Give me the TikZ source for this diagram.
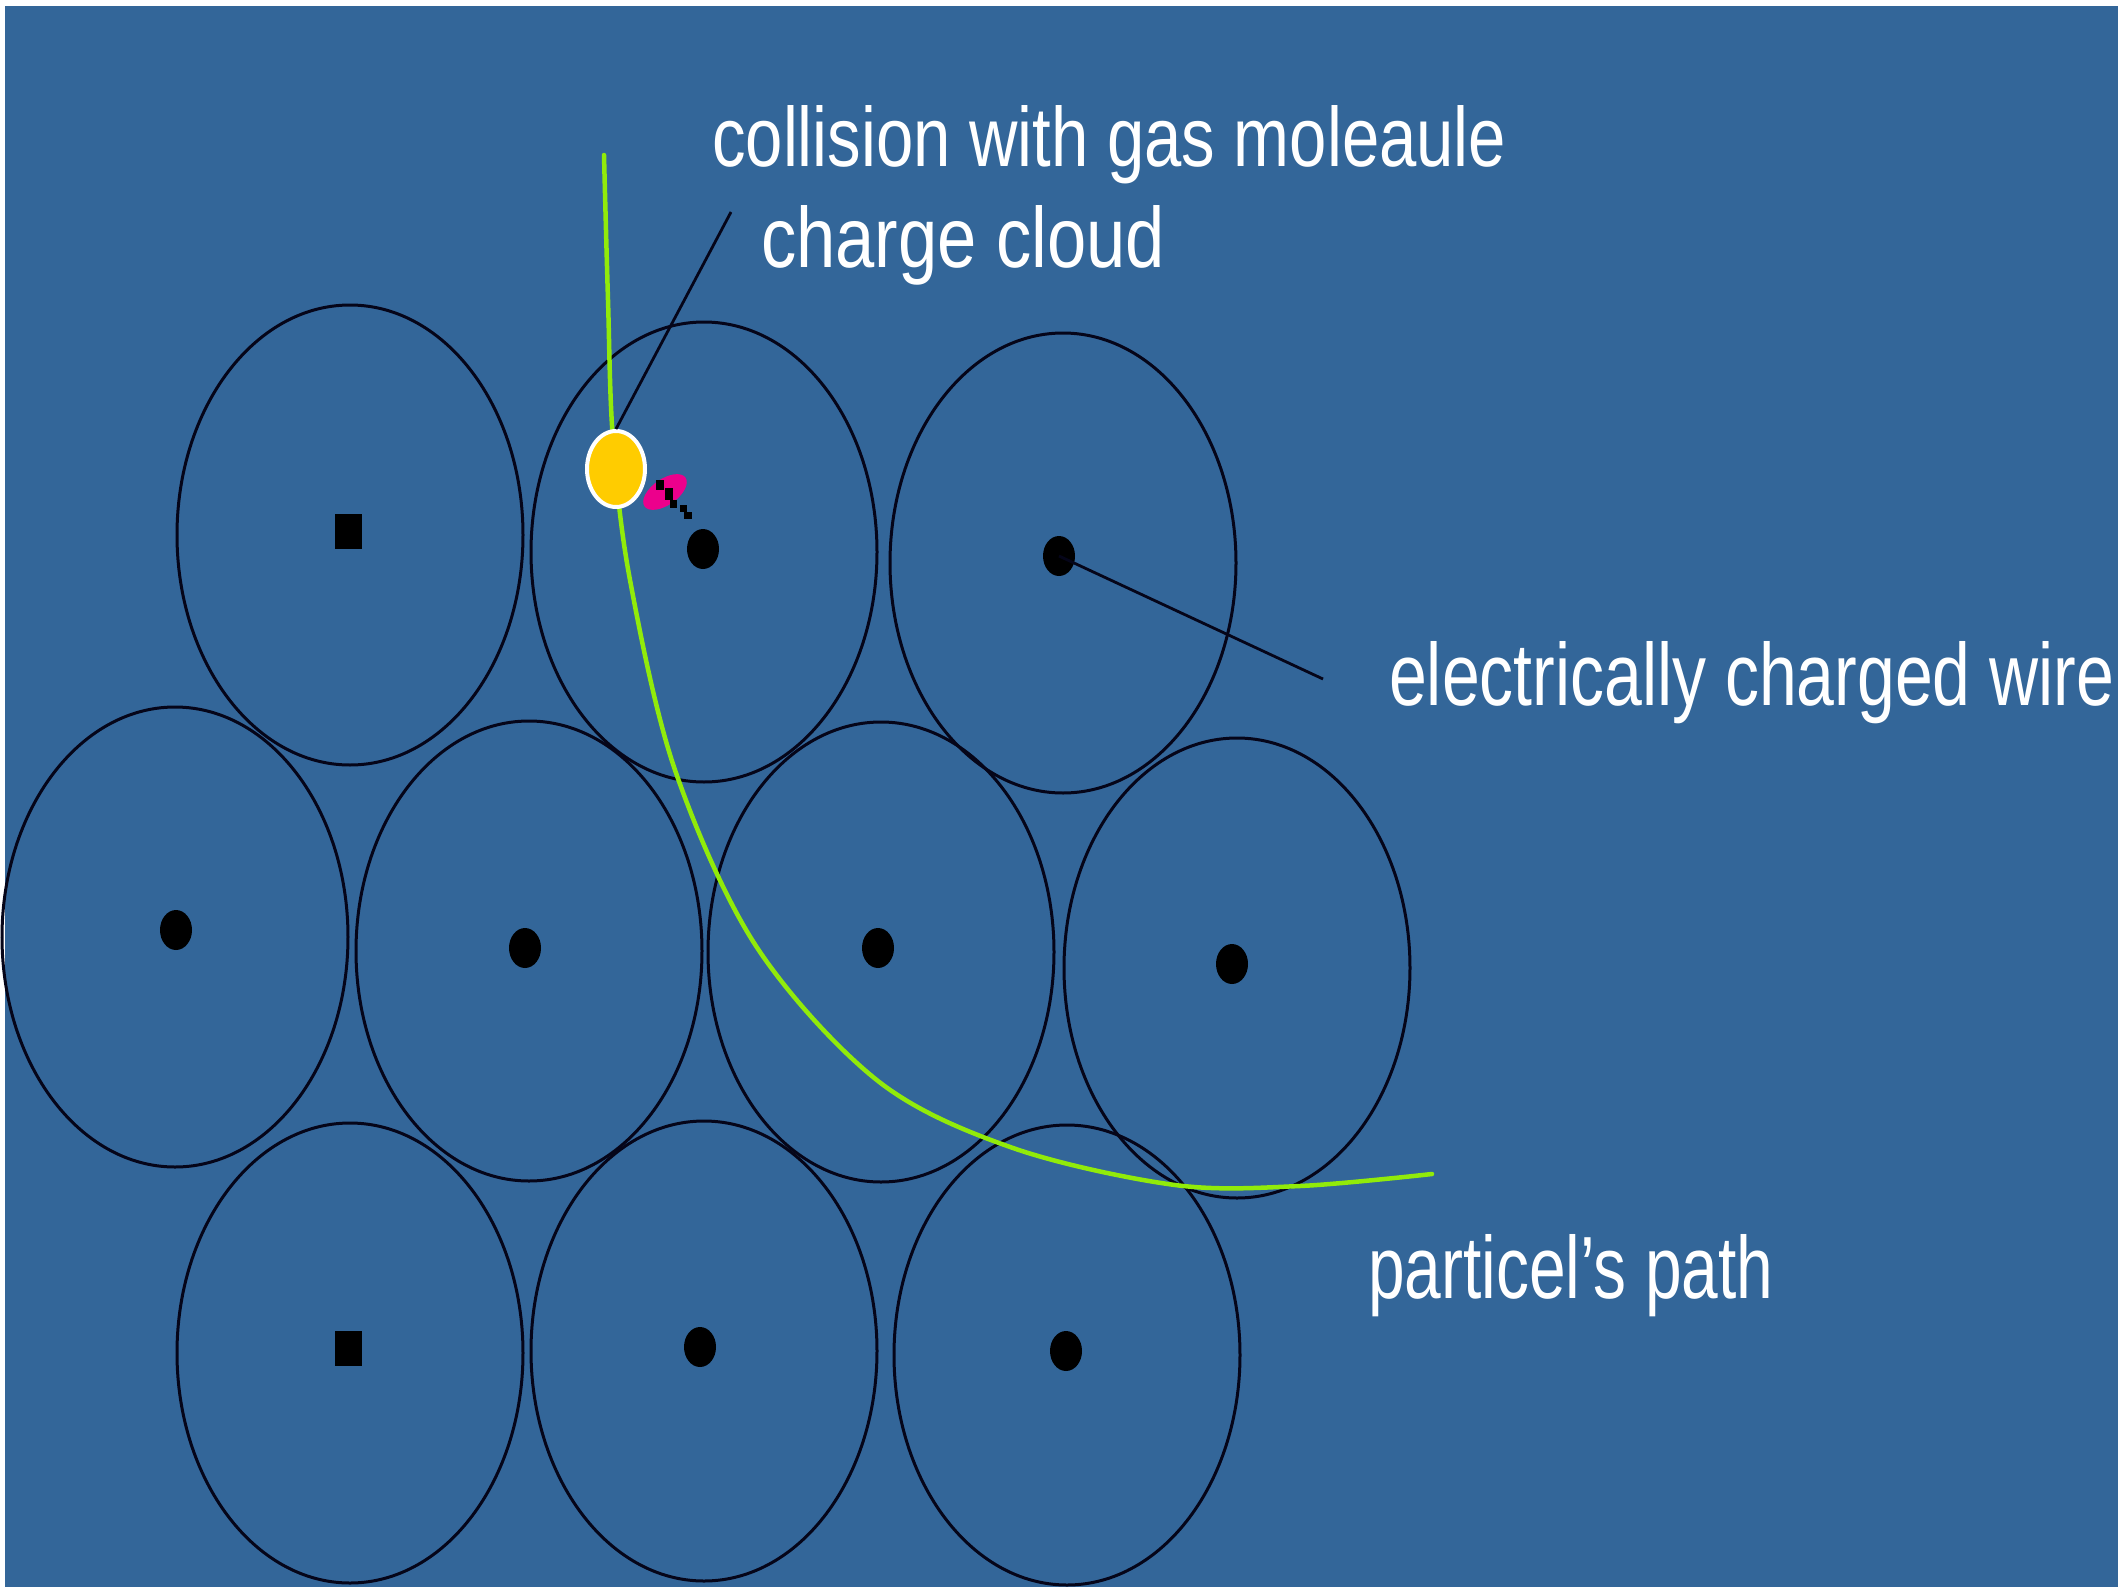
\documentclass[tikz,border=0pt]{standalone}
\usepackage{graphicx}
\usepackage{fontspec}
\setmainfont{Liberation Sans}
\usetikzlibrary{shapes.geometric}
\definecolor{bgblue}{RGB}{51,102,153}
\definecolor{pathgreen}{RGB}{145,235,10}
\definecolor{cloudyellow}{RGB}{255,204,0}
\definecolor{inkline}{RGB}{5,5,25}
\begin{document}
\begin{tikzpicture}[x=1pt,y=-1pt,
  cell/.style={ellipse, draw=inkline, line width=3pt, minimum width=346pt, minimum height=460pt, inner sep=0pt},
  wire/.style={ellipse, fill=black, minimum width=32pt, minimum height=40pt, inner sep=0pt},
  sqwire/.style={rectangle, fill=black, minimum width=27pt, minimum height=35pt, inner sep=0pt},
  pointer/.style={draw=inkline, line width=2.8pt},
  lbl/.style={text=white, inner sep=0pt, anchor=base west}]
\useasboundingbox (0,0) rectangle (2118,1587);
\fill[white] (0,0) rectangle (2118,1587);
\fill[bgblue] (5,6) rectangle (2118,1587);

% cells
\node[cell] (c1) at (350,535) {};
\node[cell] (c2) at (704,552) {};
\node[cell] (c3) at (1063,563) {};
\node[cell] (c4) at (175,937) {};
\node[cell] (c5) at (529,951) {};
\node[cell] (c6) at (881,952) {};
\node[cell] (c7) at (1237,968) {};
\node[cell] (c8) at (350,1353) {};
\node[cell] (c9) at (704,1351) {};
\node[cell] (c10) at (1067,1355) {};

% wires
\node[sqwire] (d1) at (348.5,531.5) {};
\node[wire] (d2) at (703,549) {};
\node[wire] (d3) at (1059,556) {};
\node[wire] (d4) at (176,930) {};
\node[wire] (d5) at (525,948) {};
\node[wire] (d6) at (878,948) {};
\node[wire] (d7) at (1232,964) {};
\node[sqwire] (d8) at (348,1348) {};
\node[wire] (d9) at (700,1347) {};
\node[wire] (d10) at (1066,1351) {};

% particle path
\draw[pathgreen, line width=4.5pt, line cap=round] plot[smooth, tension=0.55] coordinates {
  (604,155) (608,300) (613,440) (630,580) (675,770) (756,946)
  (878,1081) (1013,1148) (1175,1185) (1300,1186) (1432,1174)};

% collision: gas molecule and charge cloud
\node[ellipse, fill=cloudyellow, draw=white, line width=4pt, minimum width=58pt, minimum height=76pt, inner sep=0pt] (mol) at (616,469) {};
\fill[magenta, rotate around={35:(665,492)}] (665,492) ellipse (25pt and 13pt);
\fill[black] (656,480) rectangle (664,490);
\fill[black] (665,488) rectangle (673,500);
\fill[black] (670,500) rectangle (677,508);
\fill[black] (680,505) rectangle (687,512);
\fill[black] (684,512) rectangle (692,519);

% pointers
\coordinate (cctail) at (731,212);
\draw[pointer] (cctail) -- (mol.north);
\coordinate (wiretip) at (1323,679);
\draw[pointer] (d3.center) -- (wiretip);

% labels
\node[lbl] (t1) at (712,166) {\resizebox{794pt}{61pt}{collision with gas moleaule}};
\node[lbl] (t2) at (761,267) {\resizebox{404pt}{62pt}{charge cloud}};
\node[lbl] (t3) at (1389,705) {\resizebox{725pt}{64pt}{electrically charged wire}};
\node[lbl] (t4) at (1368,1298) {\resizebox{405pt}{64pt}{particel's path}};
\end{tikzpicture}
\end{document}
